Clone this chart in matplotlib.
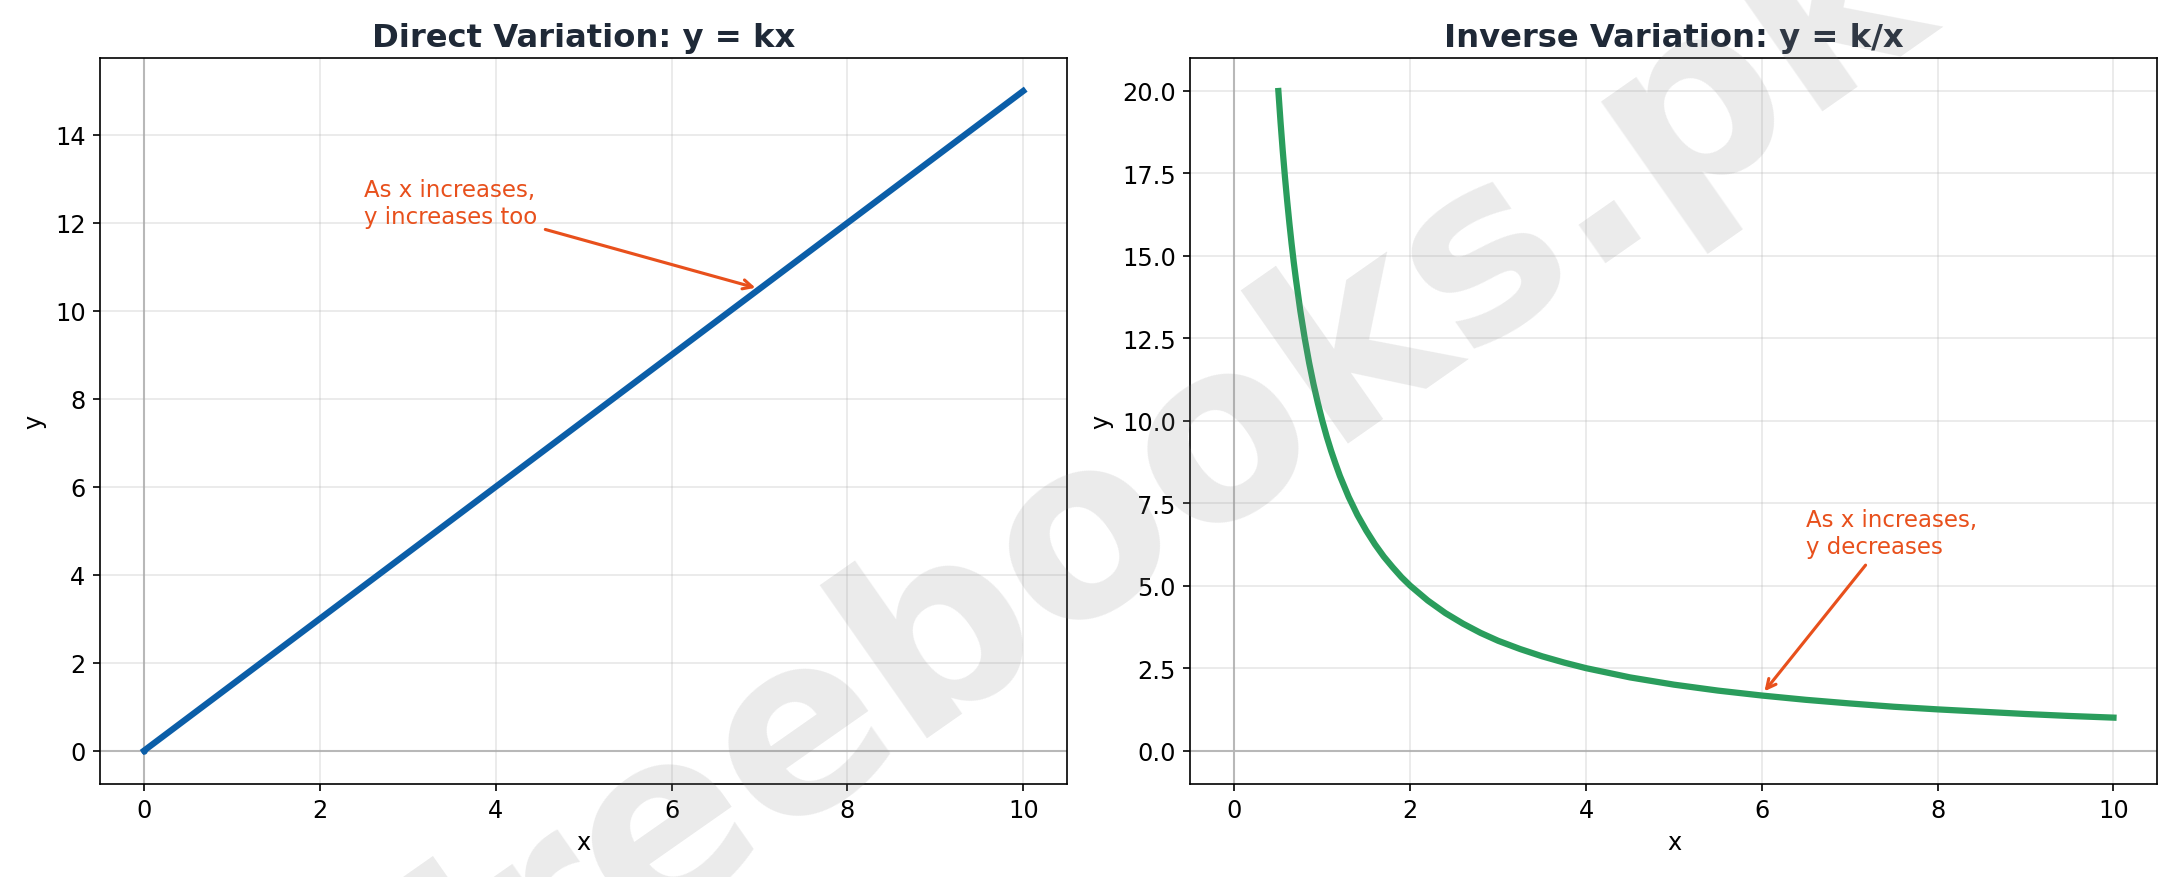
import matplotlib
matplotlib.use("Agg")
import matplotlib.pyplot as plt

direct_x = [0, 10]
direct_y = [0, 15]
inv_x = [0.5, 0.525, 0.55, 0.575, 0.6, 0.625, 0.65, 0.675, 0.7, 0.75, 0.8, 0.85, 0.9, 0.95, 1.0, 1.05, 1.1, 1.15, 1.2, 1.3, 1.4, 1.5, 1.6, 1.7, 1.8, 1.9, 2.0, 2.2, 2.4, 2.6, 2.8, 3.0, 3.25, 3.5, 3.75, 4.0, 4.5, 5.0, 5.5, 6.0, 6.5, 7.0, 7.5, 8.0, 8.5, 9.0, 9.5, 10.0]
inv_y = [20.0, 19.05, 18.18, 17.39, 16.67, 16.0, 15.38, 14.81, 14.29, 13.33, 12.5, 11.76, 11.11, 10.53, 10.0, 9.52, 9.09, 8.70, 8.33, 7.69, 7.14, 6.67, 6.25, 5.88, 5.56, 5.26, 5.0, 4.55, 4.17, 3.85, 3.57, 3.33, 3.08, 2.86, 2.67, 2.5, 2.22, 2.0, 1.82, 1.67, 1.54, 1.43, 1.33, 1.25, 1.18, 1.11, 1.05, 1.0]
titles = ["Direct Variation: y = kx", "Inverse Variation: y = k/x"]
notes = ["As x increases,\ny increases too", "As x increases,\ny decreases"]

fig, axes = plt.subplots(1, 2, figsize=(14.533, 5.853), dpi=150)
orange = "#e8501c"
for ax in axes:
    ax.axhline(0, color="#bbbbbb", lw=1, zorder=1)
    ax.axvline(0, color="#bbbbbb", lw=1, zorder=1)
    ax.grid(True, alpha=0.3)
    ax.set_xlabel("x", fontsize=11.5)
    ax.set_ylabel("y", fontsize=11.5)
    ax.tick_params(labelsize=11.5)

ax = axes[0]
ax.plot(direct_x, direct_y, color="#0b5ea8", lw=3, zorder=3)
ax.plot([0], [0], "o", color="#0b5ea8", ms=2, zorder=4)
ax.set_title(titles[0], fontsize=15.5, fontweight="bold", color="#1f2937")
ax.annotate(notes[0], xy=(7, 10.5), xytext=(2.5, 12), color=orange, fontsize=11,
            arrowprops=dict(arrowstyle="->", color=orange, lw=1.5))

ax = axes[1]
ax.plot(inv_x, inv_y, color="#2a9d5c", lw=3, zorder=3)
ax.set_title(titles[1], fontsize=15.5, fontweight="bold", color="#1f2937")
ax.set_ylim(-1, 21)
ax.annotate(notes[1], xy=(6, 1.7), xytext=(6.5, 6), color=orange, fontsize=11,
            arrowprops=dict(arrowstyle="->", color=orange, lw=1.5))

fig.tight_layout()
fig.text(0.53, 0.44, "freebooks.pk", fontsize=118, fontweight="bold", color="#888888",
         alpha=0.17, rotation=35, ha="center", va="center", zorder=10)
fig.savefig("out.png", dpi=150)
